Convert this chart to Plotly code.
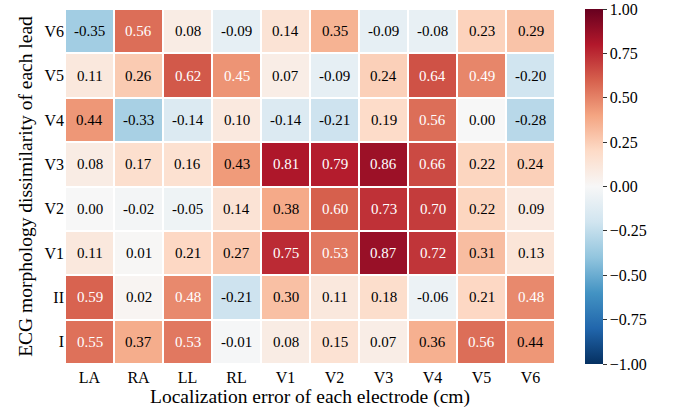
import plotly.graph_objects as go

electrodes = ["LA", "RA", "LL", "RL", "V1", "V2", "V3", "V4", "V5", "V6"]
leads = ["V6", "V5", "V4", "V3", "V2", "V1", "II", "I"]  # top to bottom

row_V6 = [-0.35, 0.56, 0.08, -0.09, 0.14, 0.35, -0.09, -0.08, 0.23, 0.29]
row_V5 = [0.11, 0.26, 0.62, 0.45, 0.07, -0.09, 0.24, 0.64, 0.49, -0.20]
row_V4 = [0.44, -0.33, -0.14, 0.10, -0.14, -0.21, 0.19, 0.56, 0.00, -0.28]
row_V3 = [0.08, 0.17, 0.16, 0.43, 0.81, 0.79, 0.86, 0.66, 0.22, 0.24]
row_V2 = [0.00, -0.02, -0.05, 0.14, 0.38, 0.60, 0.73, 0.70, 0.22, 0.09]
row_V1 = [0.11, 0.01, 0.21, 0.27, 0.75, 0.53, 0.87, 0.72, 0.31, 0.13]
row_II = [0.59, 0.02, 0.48, -0.21, 0.30, 0.11, 0.18, -0.06, 0.21, 0.48]
row_I = [0.55, 0.37, 0.53, -0.01, 0.08, 0.15, 0.07, 0.36, 0.56, 0.44]

z = [row_V6, row_V5, row_V4, row_V3, row_V2, row_V1, row_II, row_I]

rdbu = ["#053061", "#2166ac", "#4393c3", "#92c5de", "#d1e5f0", "#f7f7f7",
        "#fddbc7", "#f4a582", "#d6604d", "#b2182b", "#67001f"]
colorscale = [[i / 10, c] for i, c in enumerate(rdbu)]

FONT = "Liberation Serif, Times New Roman, serif"

fig = go.Figure(go.Heatmap(
    z=z, x=electrodes, y=leads,
    zmin=-1, zmax=1, colorscale=colorscale,
    xgap=2, ygap=2, hoverinfo="skip",
    colorbar=dict(
        x=1.061, xanchor="left", xpad=0, thickness=18,
        len=1.0, lenmode="fraction", y=0.5, yanchor="middle", ypad=0,
        outlinewidth=0, ticks="outside", ticklen=4, tickcolor="#333",
        tickvals=[-1, -0.75, -0.5, -0.25, 0, 0.25, 0.5, 0.75, 1],
        tickformat=".2f", tickfont=dict(family=FONT, size=16, color="black"),
    ),
))

annotations = []
for i, lead in enumerate(leads):
    for j, el in enumerate(electrodes):
        v = z[i][j]
        col = "white" if abs(v) >= 0.45 else "black"
        annotations.append(dict(x=el, y=lead, text=f"{v:.2f}", showarrow=False,
                                font=dict(family=FONT, size=15, color=col)))

fig.update_layout(
    width=675, height=412,
    margin=dict(l=65, r=120, t=9, b=48),
    paper_bgcolor="white", plot_bgcolor="white",
    font=dict(family=FONT, color="black"),
    annotations=annotations,
    xaxis=dict(title=dict(text="Localization error of each electrode (cm)",
                          font=dict(family=FONT, size=19.5), standoff=2),
               tickfont=dict(family=FONT, size=16), showgrid=False,
               zeroline=False, ticks="", ticklabelstandoff=2),
    yaxis=dict(title=dict(text="ECG morphology dissimilarity of each lead",
                          font=dict(family=FONT, size=19.5), standoff=6),
               tickfont=dict(family=FONT, size=16), showgrid=False,
               zeroline=False, ticks="", autorange="reversed"),
)

fig.write_html("out.html")
